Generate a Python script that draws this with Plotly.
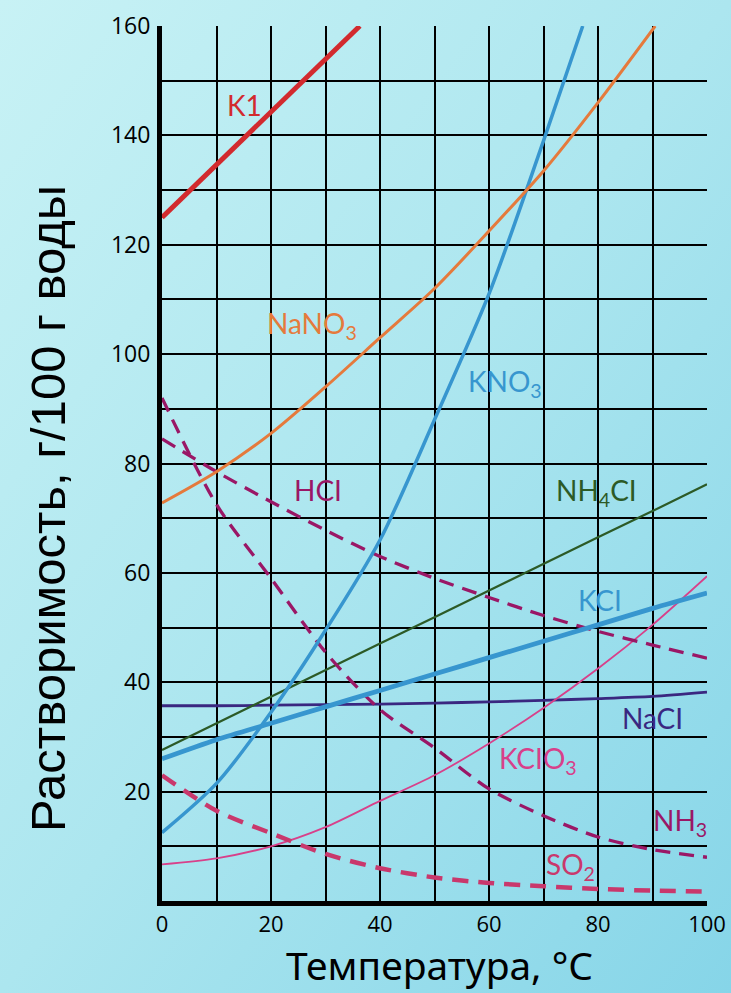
import base64
import plotly.graph_objects as go

# ---- data (temperature °C -> solubility g/100 g water) ----
T_K1 = [0, 10, 20, 30, 36.3]
S_K1 = [125, 134.6, 144.3, 154.1, 160]

T_NaNO3 = [0, 10, 20, 30, 40, 50, 60, 70, 80, 90.5]
S_NaNO3 = [72.8, 78.5, 85.5, 94, 103, 112, 122.5, 133.5, 146, 160]

T_KNO3 = [0, 10, 20, 30, 40, 50, 60, 70, 77.2]
S_KNO3 = [12.5, 21.5, 34.5, 49.5, 66, 88, 111, 139, 160]

T_all = [0, 10, 20, 30, 40, 50, 60, 70, 80, 90, 100]
S_KCl = [26, 29.5, 32.5, 35.5, 38.5, 41.5, 44.5, 47.5, 50.5, 53.5, 56.3]
S_NH4Cl = [27.6, 32.5, 37.3, 42.2, 47.1, 51.9, 56.8, 61.6, 66.5, 71.3, 76.2]
S_NaCl = [35.7, 35.7, 35.8, 35.9, 36.0, 36.2, 36.4, 36.7, 37.0, 37.4, 38.2]
S_KClO3 = [6.7, 7.8, 10, 13.5, 18.3, 23, 28.8, 35.3, 42.5, 50.5, 59.4]
S_HCl = [84.5, 78.5, 73, 67.8, 63, 59, 55.5, 52.2, 49.3, 46.8, 44.4]
S_NH3 = [92, 72.5, 59, 45.5, 35, 28, 20.5, 15.6, 11.7, 9.4, 8]
S_SO2 = [23, 16.5, 12.4, 8.6, 6, 4.3, 3.3, 2.7, 2.2, 1.9, 1.7]

x_ticks = [0, 20, 40, 60, 80, 100]
y_ticks = [20, 40, 60, 80, 100, 120, 140, 160]

x_title = "Температура, °C"
y_title = "Растворимость, г/100 г воды"

labels = ["K1", "NaNO<sub>3</sub>", "KNO<sub>3</sub>", "HCI", "NH<sub>4</sub>CI",
          "KCI", "NaCI", "KCIO<sub>3</sub>", "NH<sub>3</sub>", "SO<sub>2</sub>"]
label_T = [15.2, 27.5, 63, 28.6, 79.8, 80.4, 90, 69, 95, 75]
label_S = [145.5, 105.3, 94.7, 75.1, 74.8, 55, 33.5, 25.8, 14.4, 6.4]

# ---- styles ----
C_RED = "#d22a2e"
C_ORANGE = "#e57a3c"
C_BLUE = "#3796cf"
C_GREEN = "#2c5a26"
C_NAVY = "#3a2780"
C_PINK = "#d8408a"
C_PURPLE = "#9a1766"
C_CRIMSON = "#c9386c"
label_colors = [C_RED, C_ORANGE, C_BLUE, C_PURPLE, C_GREEN, C_BLUE, C_NAVY, C_PINK, C_PURPLE, C_CRIMSON]

fig = go.Figure()

def add(x, y, color, width, dash="solid", shape="spline"):
    line = dict(color=color, width=width, dash=dash, shape=shape)
    if shape == "spline":
        line["smoothing"] = 0.8
    fig.add_trace(go.Scatter(x=x, y=y, mode="lines", line=line,
                             hoverinfo="skip", showlegend=False))

add(T_all, S_NaCl, C_NAVY, 2.8)
add(T_all, S_NH4Cl, C_GREEN, 2.2, shape="linear")
add(T_all, S_KClO3, C_PINK, 1.8)
add(T_all, S_SO2, C_CRIMSON, 4.5, "16px,10px")
add(T_all, S_HCl, C_PURPLE, 3.3, "15px,9px")
add(T_all, S_NH3, C_PURPLE, 3.3, "15px,9px")
add(T_all, S_KCl, C_BLUE, 4.8)
add(T_KNO3, S_KNO3, C_BLUE, 3.5)
add(T_NaNO3, S_NaNO3, C_ORANGE, 3)
add(T_K1, S_K1, C_RED, 5, shape="linear")

for t, s, c, lab in zip(label_T, label_S, label_colors, labels):
    fig.add_annotation(x=t, y=s, text=lab, showarrow=False,
                       font=dict(family="Comic Sans MS, Lato, sans-serif", size=28, color=c))

L, R, TOP, B = 162, 24, 26, 92
W, H = 731, 993
pw, ph = W - L - R, H - TOP - B

# axis titles as paper annotations (positioned like the reference)
fig.add_annotation(xref="paper", yref="paper", x=(439 - L) / pw, y=(H - B - 993) / ph,
                   text=x_title, showarrow=False, xanchor="center", yanchor="bottom",
                   font=dict(family="Noto Sans, sans-serif", size=39, color="black"))
fig.add_annotation(xref="paper", yref="paper", x=(48 - L) / pw, y=(H - B - 509) / ph,
                   text=y_title, showarrow=False, textangle=-90, xanchor="center", yanchor="middle",
                   font=dict(family="Liberation Sans, Arial, sans-serif", size=49, color="black"))

# background gradient
svg = ('<svg xmlns="http://www.w3.org/2000/svg" width="731" height="993">'
       '<defs><linearGradient id="g" x1="0" y1="0" x2="1" y2="1">'
       '<stop offset="0" stop-color="#c8f2f5"/><stop offset="0.5" stop-color="#ace6ef"/>'
       '<stop offset="1" stop-color="#86d5e8"/></linearGradient></defs>'
       '<rect width="731" height="993" fill="url(#g)"/></svg>')
src = "data:image/svg+xml;base64," + base64.b64encode(svg.encode()).decode()
fig.add_layout_image(dict(source=src, xref="paper", yref="paper", x=-L / pw, y=1 + TOP / ph,
                          sizex=W / pw, sizey=H / ph, sizing="stretch", layer="below",
                          xanchor="left", yanchor="top"))

fig.update_layout(
    width=W, height=H,
    margin=dict(l=L, r=R, t=TOP, b=B, autoexpand=False),
    paper_bgcolor="#aee8f0", plot_bgcolor="rgba(0,0,0,0)",
    font=dict(family="Open Sans, sans-serif", color="black"),
    xaxis=dict(range=[0, 100], tickvals=x_ticks, showgrid=True, gridcolor="black", gridwidth=1.8,
               minor=dict(dtick=10, showgrid=True, gridcolor="black", gridwidth=1.8, tick0=0),
               showline=True, linecolor="black", linewidth=5, zeroline=False, automargin=False,
               tickfont=dict(size=22), ticks="", ticklabelstandoff=0),
    yaxis=dict(range=[0, 160], tickvals=y_ticks, showgrid=True, gridcolor="black", gridwidth=1.8,
               minor=dict(dtick=10, showgrid=True, gridcolor="black", gridwidth=1.8, tick0=0),
               showline=True, linecolor="black", linewidth=5, zeroline=False, automargin=False,
               tickfont=dict(size=23), ticks="", ticklabelstandoff=2),
)

fig.write_html("out.html", config={"displayModeBar": False},
               post_script="document.body.style.margin='0';document.documentElement.style.overflow='hidden';")
